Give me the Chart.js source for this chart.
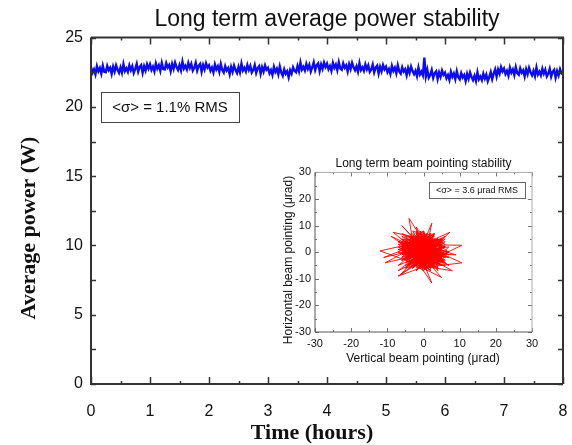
<!DOCTYPE html>
<html>
<head>
<meta charset="utf-8">
<script src="https://cdn.jsdelivr.net/npm/chart.js@4.4.1/dist/chart.umd.min.js"></script>
<style>
html, body { margin: 0; padding: 0; background: #fff; }
#wrap { position: relative; width: 572px; height: 445px; }
#mainChart { position: absolute; left: 0; top: 0; }
#insetChart { position: absolute; left: 270px; top: 150px; }
</style>
</head>
<body>
<div id="wrap">
    <canvas id="mainChart" width="572" height="445"></canvas>
    <canvas id="insetChart" width="290" height="220"></canvas>
</div>
<script>
/*** ======== Data ======== ***/
// average power (W), one sample every 0.025 h from 0 to 8 h
const SAMPLE_STEP_H = 0.025;
const powerW = [
    22.87, 22.47, 22.70, 22.35, 22.93, 22.57, 22.80, 22.40, 22.97, 22.53,
    22.50, 22.96, 22.65, 22.82, 22.38, 22.90, 22.55, 23.00, 22.68, 22.46,
    22.85, 22.47, 23.09, 22.59, 22.79, 22.53, 23.00, 22.65, 22.93, 22.45,
    22.74, 23.10, 22.54, 22.88, 23.02, 22.46, 22.94, 22.62, 23.07, 22.76,
    23.07, 22.67, 22.90, 22.55, 23.13, 22.77, 23.00, 22.60, 23.17, 22.73,
    22.70, 23.16, 22.85, 23.02, 22.58, 23.10, 22.75, 23.20, 22.88, 22.66,
    23.02, 22.64, 23.26, 22.76, 22.96, 22.70, 23.17, 22.82, 23.10, 22.62,
    22.82, 23.18, 22.62, 22.96, 23.10, 22.54, 23.02, 22.70, 23.15, 22.84,
    23.00, 22.60, 22.83, 22.48, 23.06, 22.70, 22.93, 22.53, 23.10, 22.66,
    22.48, 22.94, 22.63, 22.80, 22.36, 22.88, 22.53, 22.98, 22.66, 22.44,
    22.88, 22.50, 23.12, 22.62, 22.82, 22.56, 23.03, 22.68, 22.96, 22.48,
    22.66, 23.02, 22.46, 22.80, 22.94, 22.38, 22.86, 22.54, 22.99, 22.68,
    22.82, 22.42, 22.65, 22.30, 22.88, 22.52, 22.75, 22.35, 22.92, 22.48,
    22.25, 22.71, 22.40, 22.57, 22.13, 22.65, 22.40, 22.85, 22.60, 22.50,
    22.95, 22.57, 23.19, 22.69, 22.89, 22.63, 23.10, 22.75, 23.03, 22.55,
    22.86, 23.22, 22.66, 23.00, 23.14, 22.58, 23.06, 22.74, 23.19, 22.88,
    23.12, 22.72, 22.95, 22.60, 23.18, 22.82, 23.05, 22.65, 23.22, 22.78,
    22.68, 23.14, 22.83, 23.00, 22.56, 23.08, 22.73, 23.18, 22.86, 22.64,
    22.92, 22.54, 23.16, 22.66, 22.86, 22.60, 23.07, 22.72, 23.00, 22.52,
    22.69, 23.05, 22.49, 22.83, 22.97, 22.41, 22.89, 22.57, 23.02, 22.71,
    22.90, 22.50, 22.73, 22.38, 22.96, 22.60, 22.83, 22.43, 23.00, 22.56,
    22.40, 22.86, 22.55, 22.72, 22.28, 22.80, 22.45, 22.90, 22.58, 22.36,
    22.60, 22.22, 22.84, 22.34, 22.54, 22.28, 23.55, 22.20, 22.68, 22.10,
    22.29, 22.65, 22.09, 22.43, 22.57, 22.01, 22.49, 22.17, 22.62, 22.31,
    22.47, 22.07, 22.30, 21.95, 22.53, 22.17, 22.40, 22.00, 22.57, 22.13,
    21.98, 22.44, 22.13, 22.30, 21.86, 22.38, 22.03, 22.48, 22.16, 21.94,
    22.25, 21.87, 22.49, 21.99, 22.19, 21.93, 22.40, 22.05, 22.33, 21.85,
    22.14, 22.50, 22.00, 22.40, 22.70, 22.20, 22.70, 22.40, 22.87, 22.56,
    22.77, 22.37, 22.60, 22.25, 22.83, 22.47, 22.70, 22.30, 22.87, 22.43,
    22.32, 22.78, 22.47, 22.64, 22.20, 22.72, 22.37, 22.82, 22.50, 22.28,
    22.60, 22.22, 22.84, 22.34, 22.54, 22.28, 22.75, 22.40, 22.68, 22.20,
    22.39, 22.75, 22.19, 22.53, 22.67, 22.11, 22.59, 22.27, 22.72, 22.41,
    22.35
];
const timeHours = powerW.map((_, i) => +(i * SAMPLE_STEP_H).toFixed(3));

// beam pointing trace (urad): vertical / horizontal
const pointingV = [
    0, 5, -4, 2, -6, 6, -1, 3, -5, 4, -3, 1, 7, -6, 2, -2, 5, -7, 0, 4,
    -3, 6, -5, 1, -12, 3, -2, 5, -6, 2, -1, 7, -4, 3, -5, 0, 6, -3, 2, -7,
    4, -2, 1, -5, 10.6, -1, 3, -6, 5, -3, 2, -4, 6, -2, 0, -6, 4, -1, 7, -5,
    1, -4, -4, 3, -7, 5, -2, 2, -5, 6, -3, 0, 4, -6, 2, -1, 7, -4, 3, -2,
    5, -6, 1, -3, 2.3, 0, 4, -5, 6, -2, 1, -7, 3, -1, 5, -4, 2, -6, 7, -3,
    0, 4, -5, 2, -8.4, 1, 5, -3, 3, -6, 6, -1, 2, -4, 4, -2, 7.3, -5, 1, -3,
    6, -6, 2, -1, 10.6, -4, 3, -2, 5, -7, 0, 4, -3, 6, -5, 2, -1, 3, -6, 5,
    -2, -4, 2, -10.6, 3, -6, 6, -1, 3, -5, 0, 5, -3, 2, -7, 4, -2, 6, -4, 1,
    1, -6.5, 3, -1, 5, -5, 2.3, -3, 6, -2, 4, -6, 0, 3, -4, 7, -1, 2, -5, 5,
    -3, 1, -7, 4, -2, 6, -5, 0, 3, -4, 5, -1, 2, -6, 4, -3, 6, -2, 1, 0,
    -5, 3, -1, 5, -6, 2, -4, 4, 0, -2, 6, -5, 1, -3, 3, -7, 5, -1, 2, -4,
    4, -2, 6, -6, 1, -3, 3, -5, 5, -1, 0, 4, -4, 2, -6, 6, -2, 3, -5, 0,
    2, -3, 5, -7, 4, -1, 6, -4, 1, -5, 3, -2, 7, -6, 0, 5, -3, 2, -4, 4,
    -1, 6, -5, 3, -2, 1, -6, 5, -3, 5, 0, -4, 2, -1, 9, -7, 3, -9, 5, -5,
    1, -3, 4, -11, 2, 0, -4, 8, -1, 3, -7, 5, -2, 1, -6, 4, -3, 2, -1, 0
];
const pointingH = [
    0, 3, -2, 6, 1, -4, 7, -5, -2, 5, 3, -6, 2, 0, -5, 8, -3, 4, 1, -7,
    6, -2, 4, -6, 0.5, 5, -4, 2, 7, -3, 1, -5, 6, 4, -2, -7, 3, 8, -4, 2,
    -6, 5, 0, 3, 2.6, -5, 7, -1, 4, -6, 6, 1, -3, 3, -4, 5, -2, 8, 0, -6,
    4, -3, 1, 6, -5, 2, -7, 5, 3, -2, 7, -4, 5, 1, -6, 3, -1, 6, -3, 4,
    -5, 2, 7, -6, 10.9, -4, 3, 1, -1, 6, -6, 4, -3, 5, 0, -5, 7, 2, -2, 3,
    -7, 5, -1, 4, 7.5, -3, 5, 2, -6, 6, -2, 1, 7, -5, 3, -4, 7.5, 0, -6, 4,
    2, -3, 6, -6, -4, 5, -2, 7, -5, 1, 4, -4, 6, -1, 3, -6, 8, -3, 2, 5,
    -4, 12.7, 0, -4, 6, -2, 4, -4, 7, -6, 2, 5, -3, 3, -7, 1, 6, -5, -1, 4,
    -2, -8.6, 5, 2, -4, 3, -11.6, 6, -3, 1, 5, -2, 7, -6, 4, 0, -5, 6, -4, 2,
    6, -6, 3, -1, 5, -4, 2, 8, -5, 4, -3, 6, -7, 1, 3, -2, 5, -6, 7, 0,
    4, -5, 6, -2, 3, -7, 1, 5, -4, 7, 2, -3, 6, -6, 0, 4, -5, 3, -1, 6,
    -3, 7, -4, 2, -6, 5, 1, -5, 4, -2, 8, -6, 3, 0, -3, 6, -7, 2, 5, -4,
    3, -6, 5, 1, -3, 6, -2, 4, -7, 2, 7, -4, 0, 5, -5, 3, 6, -1, -6, 4,
    -5, 2, 6, -3, 9.5, -6, 4, 1, -4, -9.5, -2, 6, -6, 3, -1, 0, -5, 6, -3, 2,
    6, -4, 3, -2, 5, -6, 2, -7, -5, 1, -9, -3, 6, 0, 10, -5, 2, -1, 5, 0
];

const FONT_SANS = 'Arial, "Liberation Sans", sans-serif';
const FONT_SERIF = '"Times New Roman", "Liberation Serif", serif';

/*** ======== Frame + inward ticks ======== ***/
function tickList(min, max, step, majorEvery, majorLen, minorLen) {
    const out = [];
    for (let v = min; v <= max + 1e-9; v += step) {
        const r = Math.round(v / majorEvery * 1000) / 1000;
        out.push([v, Number.isInteger(r) ? majorLen : minorLen]);
    }
    return out;
}

function framePlugin(id, cfg) {
    return {
        id: id,
        afterDatasetsDraw(chart) {
            const { ctx, chartArea: a, scales } = chart;
            const x = scales.x, y = scales.y;
            ctx.save();
            // ticks
            ctx.strokeStyle = cfg.tickColor;
            ctx.lineWidth = cfg.tickWidth;
            ctx.beginPath();
            cfg.xTicks.forEach(([v, len]) => {
                const px = Math.round(x.getPixelForValue(v)) + 0.5;
                ctx.moveTo(px, a.bottom); ctx.lineTo(px, a.bottom - len);
                ctx.moveTo(px, a.top); ctx.lineTo(px, a.top + len);
            });
            cfg.yTicks.forEach(([v, len]) => {
                const py = Math.round(y.getPixelForValue(v)) + 0.5;
                ctx.moveTo(a.left, py); ctx.lineTo(a.left + len, py);
                ctx.moveTo(a.right, py); ctx.lineTo(a.right - len, py);
            });
            ctx.stroke();
            // box
            ctx.lineWidth = cfg.lineWidth;
            ctx.strokeStyle = cfg.farColor;
            ctx.beginPath();
            ctx.moveTo(a.left, a.top); ctx.lineTo(a.right, a.top); ctx.lineTo(a.right, a.bottom);
            ctx.stroke();
            ctx.strokeStyle = cfg.nearColor;
            ctx.beginPath();
            ctx.moveTo(a.left, a.top); ctx.lineTo(a.left, a.bottom); ctx.lineTo(a.right, a.bottom);
            ctx.stroke();
            ctx.restore();
        }
    };
}

function noteBoxPlugin(id, cfg) {
    return {
        id: id,
        afterDraw(chart) {
            const ctx = chart.ctx;
            ctx.save();
            ctx.strokeStyle = cfg.border;
            ctx.lineWidth = 1;
            ctx.strokeRect(cfg.x + 0.5, cfg.y + 0.5, cfg.w, cfg.h);
            ctx.fillStyle = '#111';
            ctx.font = cfg.font;
            ctx.textBaseline = 'middle';
            ctx.textAlign = 'center';
            ctx.fillText(cfg.text, cfg.x + cfg.w / 2, cfg.y + cfg.h / 2 + 1);
            ctx.restore();
        }
    };
}

// axis titles sit a little off the plot centre in the original
function axisTitlePlugin(id, cfg) {
    return {
        id: id,
        afterDraw(chart) {
            const ctx = chart.ctx;
            ctx.save();
            ctx.fillStyle = '#111';
            ctx.font = cfg.font;
            ctx.textAlign = 'center';
            ctx.textBaseline = 'middle';
            ctx.fillText(cfg.xText, cfg.xPos[0], cfg.xPos[1]);
            ctx.translate(cfg.yPos[0], cfg.yPos[1]);
            ctx.rotate(-Math.PI / 2);
            ctx.fillText(cfg.yText, 0, 0);
            ctx.restore();
        }
    };
}

/*** ======== Main chart ======== ***/
new Chart(document.getElementById('mainChart'), {
    type: 'line',
    data: {
        datasets: [{
            data: powerW.map((w, i) => ({ x: timeHours[i], y: w })),
            borderColor: '#0c0cf2',
            borderWidth: 2.4,
            pointRadius: 0,
            tension: 0
        }]
    },
    options: {
        responsive: false,
        animation: false,
        devicePixelRatio: 1,
        layout: { padding: { left: 0, right: 9, top: 0, bottom: 0 } },
        plugins: {
            legend: { display: false },
            tooltip: { enabled: false },
            title: {
                display: true,
                fullSize: false,
                text: 'Long term average power stability',
                color: '#111',
                font: { family: FONT_SANS, size: 23, weight: 'normal', lineHeight: 1.2 },
                padding: { top: 6, bottom: 4 }
            }
        },
        scales: {
            x: {
                type: 'linear', min: 0, max: 8,
                grid: { display: false, drawTicks: false },
                border: { display: false },
                ticks: { stepSize: 1, color: '#111', padding: 18, font: { family: FONT_SANS, size: 16 } },
                afterFit: s => { s.height = 61; s.paddingLeft = 0; s.paddingRight = 0; }
            },
            y: {
                min: 0, max: 25,
                grid: { display: false, drawTicks: false },
                border: { display: false },
                ticks: { stepSize: 5, color: '#111', padding: 8, font: { family: FONT_SANS, size: 16 } },
                afterFit: s => { s.width = 91; }
            }
        }
    },
    plugins: [
        framePlugin('mainFrame', {
            nearColor: '#333', farColor: '#333', lineWidth: 2,
            tickColor: '#333', tickWidth: 1.5,
            xTicks: tickList(0, 8, 0.5, 1, 7, 3),
            yTicks: tickList(0, 25, 2.5, 2.5, 5, 5)
        }),
        noteBoxPlugin('mainNote', {
            x: 101, y: 92, w: 138, h: 30, border: '#444',
            font: '15px ' + FONT_SANS, text: '<σ> = 1.1% RMS'
        }),
        axisTitlePlugin('mainTitles', {
            font: 'bold 22px ' + FONT_SERIF,
            xText: 'Time (hours)', xPos: [312, 433],
            yText: 'Average power (W)', yPos: [29, 228]
        })
    ]
});

/*** ======== Inset: beam pointing ======== ***/
new Chart(document.getElementById('insetChart'), {
    type: 'scatter',
    data: {
        datasets: [{
            data: pointingV.map((v, i) => ({ x: v, y: pointingH[i] })),
            showLine: true,
            borderColor: '#ff0000',
            borderWidth: 0.9,
            pointRadius: 0,
            tension: 0
        }]
    },
    options: {
        responsive: false,
        animation: false,
        devicePixelRatio: 1,
        layout: { padding: { left: 0, right: 28, top: 0, bottom: 0 } },
        plugins: {
            legend: { display: false },
            tooltip: { enabled: false },
            title: {
                display: true,
                fullSize: false,
                text: 'Long term beam pointing stability',
                color: '#111',
                font: { family: FONT_SANS, size: 12, weight: 'normal', lineHeight: 1.2 },
                padding: { top: 6, bottom: 2 }
            }
        },
        scales: {
            x: {
                type: 'linear', min: -30, max: 30,
                grid: { display: false, drawTicks: false },
                border: { display: false },
                ticks: { stepSize: 10, color: '#111', padding: 5, font: { family: FONT_SANS, size: 11 } },
                afterFit: s => { s.height = 38; }
            },
            y: {
                min: -30, max: 30,
                grid: { display: false, drawTicks: false },
                border: { display: false },
                ticks: { stepSize: 10, color: '#111', padding: 4, font: { family: FONT_SANS, size: 11 } },
                afterFit: s => { s.width = 45; }
            }
        }
    },
    plugins: [
        framePlugin('insetFrame', {
            nearColor: '#555', farColor: '#aaa', lineWidth: 1,
            tickColor: '#777', tickWidth: 1,
            xTicks: tickList(-30, 30, 5, 10, 4, 2),
            yTicks: tickList(-30, 30, 5, 10, 4, 2)
        }),
        noteBoxPlugin('insetNote', {
            x: 159, y: 32, w: 96, h: 16, border: '#666',
            font: '9px ' + FONT_SANS, text: '<σ> = 3.6 μrad RMS'
        }),
        axisTitlePlugin('insetTitles', {
            font: '12px ' + FONT_SANS,
            xText: 'Vertical beam pointing (μrad)', xPos: [153, 209],
            yText: 'Horizontal beam pointing (μrad)', yPos: [19, 110]
        })
    ]
});
</script>
</body>
</html>
